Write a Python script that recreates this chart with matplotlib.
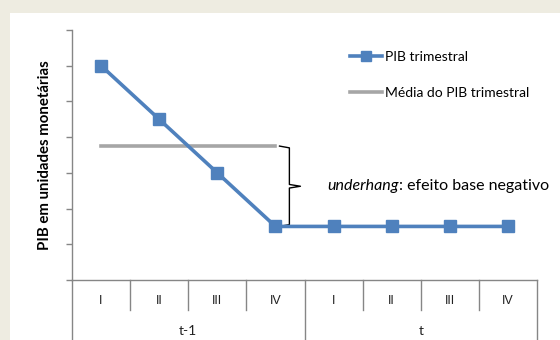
import matplotlib
matplotlib.use("Agg")
import matplotlib.pyplot as plt
from matplotlib.patches import Rectangle

plt.rcParams['font.family'] = ['Lato', 'DejaVu Sans']

# data
quarters = ['I', 'II', 'III', 'IV', 'I', 'II', 'III', 'IV']
years = ['t-1', 't']
pib = [6, 4.5, 3, 1.5, 1.5, 1.5, 1.5, 1.5]
media = sum(pib[:4]) / 4

blue = '#4F81BD'
grey = '#A6A6A6'
axis_col = '#868686'

fig = plt.figure(figsize=(5.6, 3.4), dpi=100, facecolor='#EEECE1')
# white panel
fig.patches.append(Rectangle((10 / 560, 0), 550 / 560, 327 / 340,
                             transform=fig.transFigure, facecolor='white',
                             edgecolor='none', zorder=-5))

ax = fig.add_axes([72 / 560, 60 / 340, 465 / 560, 250 / 340])
ax.set_facecolor('none')
x = [i + 0.5 for i in range(len(pib))]

ax.plot(x, pib, color=blue, lw=2.6, marker='s', ms=8, mec=blue, mfc=blue,
        label='PIB trimestral', zorder=3)
ax.plot(x[:4], [media] * 4, color=grey, lw=2.6, label='Média do PIB trimestral',
        zorder=2)

ax.set_xlim(0, 8)
ax.set_ylim(0, 7)
ax.set_yticks(range(8))
ax.set_yticklabels([])
ax.set_xticks([])
for s in ['top', 'right']:
    ax.spines[s].set_visible(False)
for s in ['left', 'bottom']:
    ax.spines[s].set_color(axis_col)
    ax.spines[s].set_linewidth(1.0)
ax.tick_params(axis='y', length=4, color=axis_col, width=1)

# category table below the axis
q_bot = -30 / 35.7
y_bot = -62 / 35.7
for i in range(9):
    bot = y_bot if i % 4 == 0 else q_bot
    ax.plot([i, i], [0, bot], color=axis_col, lw=1, clip_on=False)
for i, q in enumerate(quarters):
    ax.text(i + 0.5, -21 / 35.7, q, ha='center', va='center', fontsize=9,
            color='#222222', family=['Liberation Sans', 'DejaVu Sans'])
for j, yr in enumerate(years):
    ax.text(j * 4 + 2, -51 / 35.7, yr, ha='center', va='center', fontsize=10,
            color='#222222')

# brace
bx0, bx1, bx2 = 3.57, 3.74, 3.93
ym = (media + pib[3]) / 2
ax.plot([bx0, bx1, bx1, bx2, bx1, bx1, bx0],
        [media, media - 0.05, ym + 0.05, ym, ym - 0.05, pib[3] + 0.05, pib[3]],
        color='black', lw=1, clip_on=False)

t1 = ax.text(4.4, ym, 'underhang', style='italic', fontsize=11.5, va='center',
             ha='left')
ax.annotate(': efeito base negativo', xy=(1, 0.5), xycoords=t1, fontsize=11.5,
            va='center', ha='left')

ax.legend(loc='upper left', bbox_to_anchor=(350 / 560, 1 - 51 / 340),
          bbox_transform=fig.transFigure, frameon=False, fontsize=10,
          handlelength=2.3, handletextpad=0.2, labelspacing=1.7,
          borderpad=0, borderaxespad=0, markerscale=0.9)

fig.text(45 / 560, 1 - 155 / 340, 'PIB em unidades monetárias', rotation=90,
         ha='center', va='center', fontsize=10.8, fontweight='bold')

fig.savefig('out.png', dpi=100, facecolor=fig.get_facecolor())
